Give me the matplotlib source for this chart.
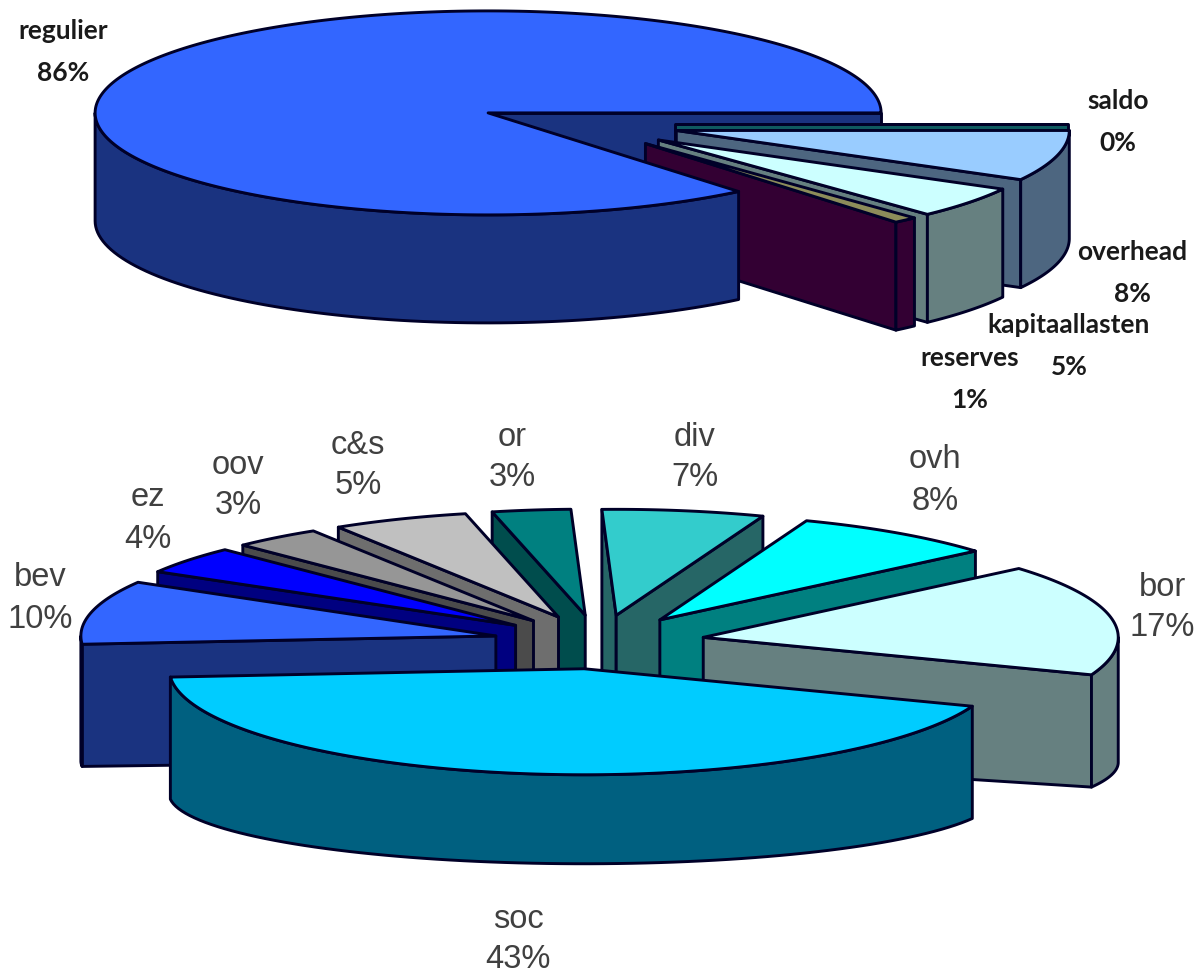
import numpy as np
import matplotlib
matplotlib.use("Agg")
import matplotlib.pyplot as plt
from matplotlib.patches import Polygon

# budget split, counter-clockwise from the start angle of each pie
top_names = ["regulier", "reserves", "kapitaallasten", "overhead", "saldo"]
top_labels = [86, 1, 5, 8, 0]
top_shares = [86, 1, 5, 8, 0]

bottom_names = ["bor", "ovh", "div", "or", "c&s", "oov", "ez", "bev", "soc"]
bottom_labels = [17, 8, 7, 3, 5, 3, 4, 10, 43]
# slice sizes as drawn (labels are rounded)
bottom_shares = [17, 8, 6.3, 3.05, 5.3, 3.45, 4.2, 9.7, 43]

top_faces = ["#3366FF", "#8C8C5A", "#CCFFFF", "#99CCFF", "#0F5A60"]
top_sides = ["#1A3380", "#330033", "#668080", "#4D6680", "#0F5A60"]
bottom_faces = ["#CCFFFF", "#00FFFF", "#33CCCC", "#008080", "#C0C0C0",
                "#969696", "#0000FF", "#3366FF", "#00CCFF"]
bottom_sides = ["#668080", "#008080", "#266666", "#004D4D", "#6E6E6E",
                "#4B4B4B", "#000080", "#1A3380", "#006080"]

# label centres in figure pixels
top_label_xy = [(63, 52), (970, 379), (1069, 346), (1132, 273), (1118, 122)]
bottom_label_xy = [(1162, 608), (935, 481), (695, 458), (512, 458), (358, 466),
                   (238, 486), (148, 519), (40, 599), (518, 940)]

EDGE = "#000028"


def draw_pie(ax, values, faces, sides, center, rx, ry, ry_low, depth, start, explode, body_last=()):
    sweeps = np.array(values) * 3.6
    starts = start + np.concatenate([[0], np.cumsum(sweeps)[:-1]])
    tips = []
    for a, s, e in zip(starts, sweeps, explode):
        m = np.radians(a + s / 2)
        tips.append((center[0] + e * rx * np.cos(m),
                     center[1] - e * ry * np.sin(m)))

    def top_pt(tip, deg):
        t = np.radians(deg)
        return tip[0] + rx * np.cos(t), tip[1] - ry * np.sin(t)

    def low_pt(tip, deg):
        t = np.radians(deg)
        return tip[0] + rx * np.cos(t), tip[1] + depth - ry_low * np.sin(t)

    style = dict(edgecolor=EDGE, linewidth=2.1, joinstyle="round")

    def draw_walls(i):
        a, tip = starts[i] % 360, tips[i]
        b = a + sweeps[i]
        # cut walls facing the viewer
        walls = []
        if np.cos(np.radians(a)) > 0:
            walls.append(a)
        if np.cos(np.radians(b)) < 0:
            walls.append(b)
        walls.sort(key=lambda d: top_pt(tip, d)[1])
        for d in walls:
            quad = [tip, top_pt(tip, d), low_pt(tip, d), (tip[0], tip[1] + depth)]
            ax.add_patch(Polygon(quad, closed=True, facecolor=sides[i], **style))

    def draw_body(i):
        a, s, tip = starts[i] % 360, sweeps[i], tips[i]
        b = a + s
        # outer rim, front half only
        for lo, hi in [(180, 360), (540, 720)]:
            r0, r1 = max(a, lo), min(b, hi)
            if r1 <= r0:
                continue
            th = np.linspace(r0, r1, 80)
            pts = [top_pt(tip, d) for d in th] + [low_pt(tip, d) for d in th[::-1]]
            ax.add_patch(Polygon(pts, closed=True, facecolor=sides[i], **style))
        # top surface
        th = np.linspace(a, b, max(int(s), 2))
        pts = [tip] + [top_pt(tip, d) for d in th]
        ax.add_patch(Polygon(pts, closed=True, facecolor=faces[i], **style))

    for i in sorted(range(len(values)), key=lambda k: tips[k][1]):
        draw_walls(i)
        if i not in body_last:
            draw_body(i)
    for i in body_last:
        draw_body(i)


fig = plt.figure(figsize=(12.01, 9.74), dpi=100)
ax = fig.add_axes([0, 0, 1, 1])
ax.set_xlim(0, 1201)
ax.set_ylim(974, 0)
ax.axis("off")

draw_pie(ax, top_shares, top_faces, top_sides, (579, 124), 393, 102, 102, 108, 0,
         [0.2556, 0.2556, 0.2556, 0.2556, 0.245], body_last=[0])
draw_pie(ax, bottom_shares, bottom_faces, bottom_sides, (599, 642), 415, 106, 70, 125, -20.7,
         [0.255] * 9)

# name and percentage are separate texts, the blocks would collide otherwise
for name, val, (x, y) in zip(top_names, top_labels, top_label_xy):
    for txt, yy in [(name, y - 21), (f"{val}%", y + 21)]:
        ax.text(x, yy, txt, ha="center", va="center", family="Lato",
                weight="bold", fontsize=19, color="#1a1a1a")

for name, val, (x, y) in zip(bottom_names, bottom_labels, bottom_label_xy):
    for txt, yy in [(name, y - 21), (f"{val}%", y + 20)]:
        ax.text(x, yy, txt, ha="center", va="center", family="Liberation Sans",
                fontsize=23.5, color="#404040")

fig.savefig("out.png", dpi=100, facecolor="white")
plt.close()
